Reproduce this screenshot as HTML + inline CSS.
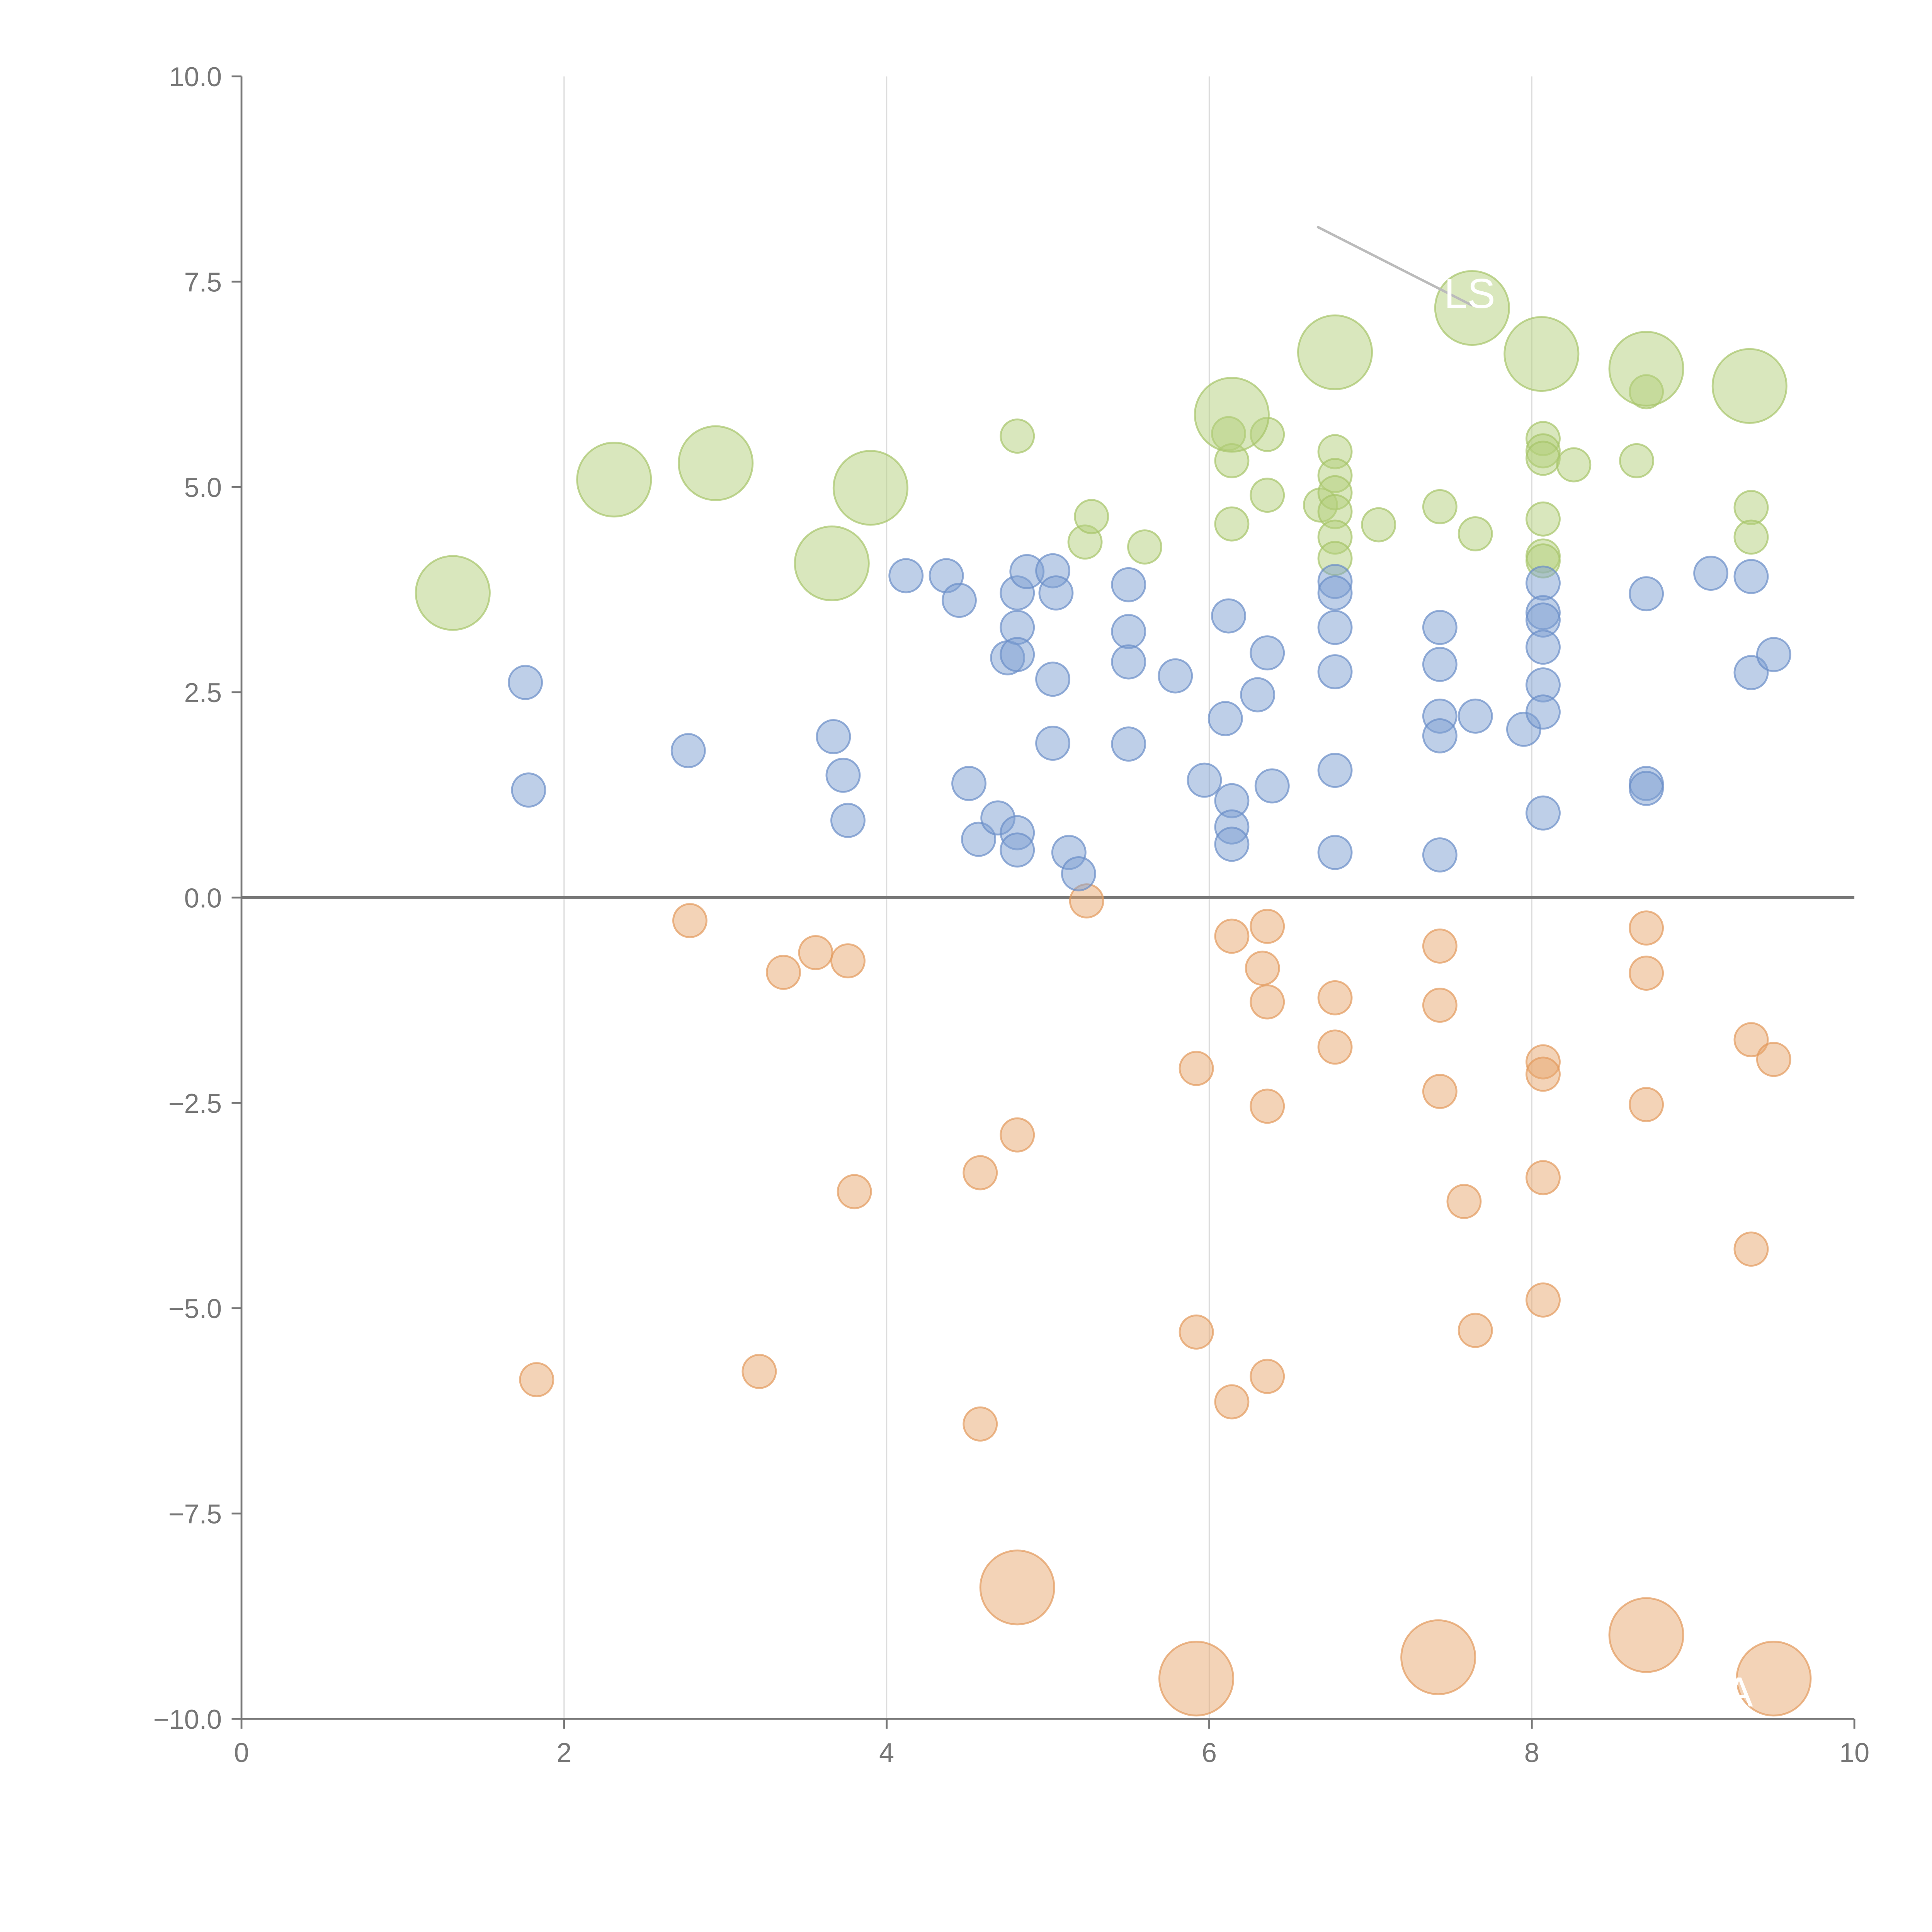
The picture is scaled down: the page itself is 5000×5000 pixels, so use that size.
<!DOCTYPE html>
<html><head><meta charset="utf-8"><style>
html,body{margin:0;padding:0;background:#fff;}
svg{display:block;}
text{font-family:"Liberation Sans",sans-serif;}
</style></head><body>
<svg id="chart" width="5000" height="5000" viewBox="0 0 1568 1568" xmlns="http://www.w3.org/2000/svg">
<g id="grid"></g>
<g id="axes"></g>
<g id="marks"></g>
<line x1="1069" y1="184" x2="1195" y2="248" stroke="#bbb" stroke-width="2"/>
<text x="1172" y="250" font-size="34" fill="#fff">LS</text>
<text x="1400" y="1385" font-size="34" fill="#fff">A</text>
</svg>
<script>
const xTicks=[0,2,4,6,8,10];
const yTicks=[10,7.5,5,2.5,0,-2.5,-5,-7.5,-10];
const yTickLabels=["10.0","7.5","5.0","2.5","0.0","\u22122.5","\u22125.0","\u22127.5","\u221210.0"];
const blueX=[1.76,1.78,2.77,3.67,3.73,3.76,4.12,4.37,4.45,4.51,4.57,4.69,4.75,4.81,4.81,4.81,4.81,4.81,4.87,5.03,5.05,5.03,5.03,5.13,5.19,5.50,5.50,5.50,5.50,5.79,5.97,6.12,6.10,6.14,6.14,6.14,6.30,6.36,6.39,6.78,6.78,6.78,6.78,6.78,6.78,7.43,7.43,7.43,7.43,7.43,7.65,7.95,8.07,8.07,8.07,8.07,8.07,8.07,8.07,8.71,8.71,8.71,9.11,9.36,9.36,9.50];
const blueY=[2.62,1.31,1.79,1.96,1.49,0.94,3.92,3.92,3.62,1.39,0.71,0.97,2.92,3.71,3.29,2.96,0.79,0.58,3.97,3.98,3.71,2.66,1.88,0.55,0.29,3.81,3.24,2.87,1.87,2.70,1.43,3.43,2.18,1.18,0.86,0.65,2.47,2.98,1.36,3.85,3.71,3.29,2.75,1.55,0.55,3.29,2.84,2.21,1.97,0.52,2.21,2.05,3.83,3.47,3.38,3.05,2.59,2.26,1.03,3.70,1.39,1.33,3.95,3.91,2.74,2.96];
const orangeX=[2.78,3.36,3.56,3.76,3.80,1.83,3.21,4.58,4.58,4.81,5.24,5.92,5.92,6.14,6.14,6.36,6.33,6.36,6.36,6.36,6.78,6.78,7.43,7.43,7.43,7.58,7.65,8.07,8.07,8.07,8.07,8.71,8.71,8.71,9.36,9.50,9.36,4.81,5.92,7.42,8.71,9.50];
const orangeY=[-0.28,-0.91,-0.67,-0.77,-3.58,-5.87,-5.77,-3.35,-6.41,-2.89,-0.04,-2.08,-5.29,-0.47,-6.14,-0.35,-0.86,-1.27,-2.54,-5.83,-1.22,-1.82,-0.59,-1.31,-2.36,-3.70,-5.27,-2.00,-2.15,-3.41,-4.90,-0.37,-0.92,-2.52,-1.73,-1.97,-4.28,-8.40,-9.51,-9.25,-8.98,-9.51];
const orangeSize=[1,1,1,1,1,1,1,1,1,1,1,1,1,1,1,1,1,1,1,1,1,1,1,1,1,1,1,1,1,1,1,1,1,1,1,1,1,2,2,2,2,2];
const greenX=[4.81,5.23,5.27,5.60,6.12,6.14,6.14,6.36,6.36,6.69,6.78,6.78,6.78,6.78,6.78,6.78,7.05,7.43,7.65,8.07,8.07,8.07,8.07,8.07,8.07,8.26,8.65,8.71,9.36,9.36,1.31,2.31,2.94,3.90,3.66,6.14,6.78,7.63,8.06,8.71,9.35];
const greenY=[5.62,4.33,4.64,4.27,5.65,5.32,4.55,5.64,4.90,4.78,5.43,5.14,4.93,4.70,4.39,4.13,4.54,4.76,4.43,5.59,5.44,5.35,4.61,4.16,4.10,5.27,5.32,6.16,4.75,4.39,3.71,5.09,5.29,4.99,4.07,5.88,6.64,7.18,6.62,6.44,6.23];
const greenSize=[1,1,1,1,1,1,1,1,1,1,1,1,1,1,1,1,1,1,1,1,1,1,1,1,1,1,1,1,1,1,2,2,2,2,2,2,2,2,2,2,2];
const NS="http://www.w3.org/2000/svg";
const X0=196,X1=1505,Y0=1395,Y1=62;
function sx(v){return X0+(v-0)/(10-0)*(X1-X0);}
function sy(v){return Y0-(v+10)/20*(Y0-Y1);}
function rad(s){return s===2?30:13.5;}
function mk(tag,attrs,parent){const e=document.createElementNS(NS,tag);for(const k in attrs)e.setAttribute(k,attrs[k]);parent.appendChild(e);return e;}
const grid=document.getElementById('grid'),axes=document.getElementById('axes'),marks=document.getElementById('marks');
xTicks.forEach((t,i)=>{
  if(t>0&&t<10){const g=mk('line',{x1:sx(t),x2:sx(t),y1:Y1,y2:Y0,stroke:'#ddd','stroke-width':1},grid);
    
    }
  const tk=mk('line',{x1:sx(t),x2:sx(t),y1:Y0,y2:Y0+8,stroke:'#777','stroke-width':1.5},axes);
  
  
  const tx=mk('text',{x:sx(t),y:Y0+35,'font-size':22,fill:'#777','text-anchor':'middle'},axes);
  tx.textContent=String(t);
  
  
});
yTicks.forEach((t,i)=>{
  const tk=mk('line',{x1:X0-8,x2:X0,y1:sy(t),y2:sy(t),stroke:'#777','stroke-width':1.5},axes);
  
  
  const tx=mk('text',{x:X0-16,y:sy(t)+8,'font-size':22,fill:'#777','text-anchor':'end'},axes);
  tx.textContent=yTickLabels[i];
  
  
});
const ls=mk('line',{x1:X0,x2:X0,y1:Y1,y2:Y0,stroke:'#777','stroke-width':1.5},axes);


const bs=mk('line',{x1:X0,x2:X1,y1:Y0,y2:Y0,stroke:'#777','stroke-width':1.5},axes);


function series(xs,ys,sz,fill,stroke,name){
  xs.forEach((x,i)=>{
    const c=mk('circle',{cx:sx(x),cy:sy(ys[i]),r:rad(sz?sz[i]:1),fill:fill,'fill-opacity':0.5,stroke:stroke,'stroke-opacity':0.7,'stroke-width':1.5},marks);
    
    
  });
}
series(orangeX,orangeY,orangeSize,'#e8a870','#e39a5c','orange-bubble');
series(greenX,greenY,greenSize,'#b3cf7c','#a6c46a','green-bubble');
series(blueX,blueY,null,'#7e9fd2','#6a8dc8','blue-bubble');
const z=mk('line',{x1:X0,x2:X1,y1:sy(0),y2:sy(0),stroke:'#777','stroke-width':2.5},axes);


</script>
</body></html>
